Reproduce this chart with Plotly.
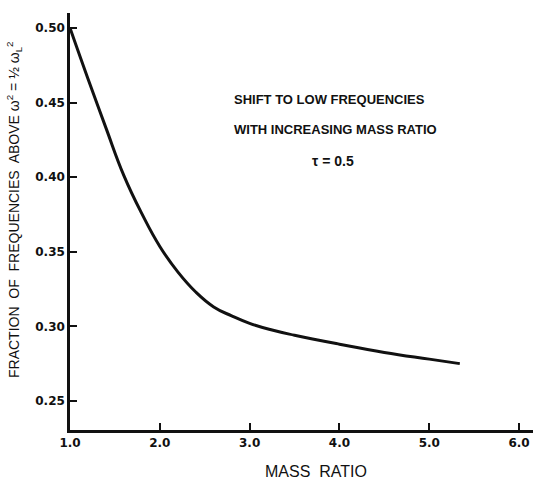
import plotly.graph_objects as go

# Fraction of frequencies above w^2 = 1/2 w_L^2 versus mass ratio (tau = 0.5)
mass_ratio = [1.0, 1.2, 1.4, 1.6, 1.8, 2.0, 2.2, 2.4, 2.6, 2.8,
              3.0, 3.25, 3.5, 4.0, 4.5, 5.0, 5.34]
fraction = [0.500, 0.466, 0.433, 0.401, 0.3755, 0.3535, 0.3365, 0.323, 0.313,
            0.307, 0.302, 0.2975, 0.294, 0.288, 0.2825, 0.278, 0.275]

x_ticks = [1.0, 2.0, 3.0, 4.0, 5.0, 6.0]
y_ticks = [0.25, 0.30, 0.35, 0.40, 0.45, 0.50]

note_lines = ["SHIFT TO LOW FREQUENCIES", "WITH INCREASING MASS RATIO"]
tau_label = "τ = 0.5"

ink = "#111111"
label_font = dict(family="DejaVu Sans", size=12, color=ink, weight="bold")

fig = go.Figure()
fig.add_trace(go.Scatter(
    x=mass_ratio, y=fraction, mode="lines",
    line=dict(color=ink, width=3, shape="spline", smoothing=1.3),
    hoverinfo="skip", showlegend=False,
))

fig.update_layout(
    width=534, height=479,
    margin=dict(l=70, r=1, t=13, b=49),
    paper_bgcolor="white", plot_bgcolor="white",
    xaxis=dict(
        range=[1.0, 6.155], tickvals=x_ticks, tickformat=".1f",
        ticks="inside", ticklen=7, tickwidth=2, tickcolor=ink,
        showline=True, linecolor=ink, linewidth=2.5,
        showgrid=False, zeroline=False, tickfont=label_font,
    ),
    yaxis=dict(
        range=[0.2305, 0.510], tickvals=y_ticks, tickformat=".2f",
        ticks="inside", ticklen=7, tickwidth=2, tickcolor=ink,
        showline=True, linecolor=ink, linewidth=2.5,
        showgrid=False, zeroline=False, tickfont=label_font,
    ),
)

# axis titles
fig.add_annotation(
    text="MASS\u00a0\u00a0RATIO", xref="paper", yref="paper",
    x=(316 - 70) / 463, y=-(471 - 430) / 417,
    xanchor="center", yanchor="middle", showarrow=False,
    font=dict(family="Liberation Sans", size=16, color=ink),
)
fig.add_annotation(
    text="FRACTION\u00a0 OF\u00a0 FREQUENCIES\u00a0 ABOVE ω<sup>2</sup> = ½ ω<sub>L</sub><sup>2</sup>",
    xref="paper", yref="paper",
    x=-(70 - 14) / 463, y=(430 - 210) / 417,
    xanchor="center", yanchor="middle", textangle=-90, showarrow=False,
    font=dict(family="Liberation Sans", size=14, color=ink),
)

# in-plot notes
for i, line in enumerate(note_lines):
    fig.add_annotation(
        text=line, x=2.80, y=0.4517 - i * 0.0201,
        xanchor="left", yanchor="middle", showarrow=False,
        font=dict(family="Liberation Sans", size=13, color=ink, weight="bold"),
    )
fig.add_annotation(
    text=tau_label, x=3.93, y=0.4109,
    xanchor="center", yanchor="middle", showarrow=False,
    font=dict(family="Liberation Sans", size=14, color=ink, weight="bold"),
)

fig.write_html("out.html")
